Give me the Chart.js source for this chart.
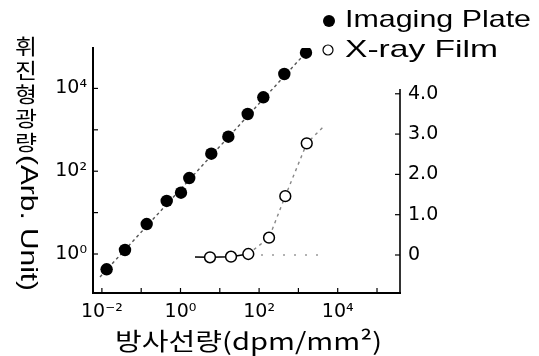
<!DOCTYPE html>
<html><head><meta charset="utf-8">
<script src="https://cdn.jsdelivr.net/npm/chart.js@4/dist/chart.umd.min.js"></script>
<style>html,body{margin:0;padding:0;background:#fff;overflow:hidden}</style>
</head><body><canvas id="c" width="539" height="356"></canvas>
<script>
// ---- data ----
const ipDose = [0.0132, 0.0387, 0.138, 0.446, 1.03, 1.67, 6.08, 16.5, 51.3, 128, 438, 1560];
const ipLuminescence = [0.427, 1.25, 5.3, 19.1, 30.3, 68.5, 265, 681, 2410, 6100, 22300, 72800];
const filmDose = [5.63, 19.3, 53.1, 179, 464, 1630];
const filmDensity = [-0.057, -0.042, 0.025, 0.43, 1.46, 2.77];
const ipFitDose = [0.00895, 2094];
const ipFitLuminescence = [0.278, 100000];
const filmCurveDose = [2.34, 5.63, 19.3, 53.1, 179, 464, 1630, 4300];
const filmCurveDensity = [-0.05, -0.057, -0.042, 0.025, 0.43, 1.46, 2.77, 3.18];
const fogDose = [58.7, 4750];
const fogDensity = [0, 0];
const xTickValues = [0.01, 1, 100, 10000];
const xTickLabels = ['10⁻²', '10⁰', '10²', '10⁴'];
const yTickValues = [1, 100, 10000];
const yTickLabels = ['10⁰', '10²', '10⁴'];
const y2TickValues = [0, 1, 2, 3, 4];
const y2TickLabels = ['0', '1.0', '2.0', '3.0', '4.0'];
const seriesNames = ['Imaging Plate', 'X-ray Film'];
const xTitle = '방사선량(dpm/mm²)';
const yTitleKo = ['휘', '진', '형', '광', '량'];
const yTitleLatin = '(Arb. Unit)';

const pts = (xs, ys) => xs.map((x, i) => ({x: x, y: ys[i]}));
const tickFont = {family: '"DejaVu Sans"', size: 19};

function stretchText(ctx, text, x, y, width) {
  const w = ctx.measureText(text).width;
  ctx.save();
  ctx.translate(x, y);
  ctx.scale(width / w, 1);
  ctx.fillText(text, 0, 0);
  ctx.restore();
}

const decor = {
  id: 'decor',
  afterDraw(chart) {
    const ctx = chart.ctx, a = chart.chartArea;
    const sx = chart.scales.x, sy = chart.scales.y, s2 = chart.scales.y2;
    ctx.save();
    ctx.strokeStyle = '#000'; ctx.fillStyle = '#000';
    // right axis line (only up to just above 4.0)
    ctx.lineWidth = 1.6;
    ctx.beginPath();
    ctx.moveTo(a.right, s2.getPixelForValue(4.12));
    ctx.lineTo(a.right, a.bottom + 1);
    ctx.stroke();
    // inward tick marks
    ctx.lineWidth = 1.2;
    for (let k = 0; k <= 4; k++) {
      const p = sy.getPixelForValue(Math.pow(10, k));
      ctx.beginPath(); ctx.moveTo(a.left, p); ctx.lineTo(a.left + 5, p); ctx.stroke();
    }
    for (let k = -2; k <= 5; k++) {
      const p = sx.getPixelForValue(Math.pow(10, k));
      ctx.beginPath(); ctx.moveTo(p, a.bottom); ctx.lineTo(p, a.bottom - 5); ctx.stroke();
    }
    y2TickValues.forEach(v => {
      const p = s2.getPixelForValue(v);
      ctx.beginPath(); ctx.moveTo(a.right, p); ctx.lineTo(a.right - 5, p); ctx.stroke();
    });
    // legend
    ctx.beginPath(); ctx.arc(329, 21, 6, 0, Math.PI * 2); ctx.fill();
    ctx.lineWidth = 1.2;
    ctx.beginPath(); ctx.arc(328, 50, 5, 0, Math.PI * 2); ctx.stroke();
    ctx.font = '24px "Liberation Sans"';
    ctx.textBaseline = 'alphabetic'; ctx.textAlign = 'left';
    stretchText(ctx, seriesNames[0], 345, 27, 186);
    stretchText(ctx, seriesNames[1], 345, 57, 153);
    // x title
    ctx.font = '24px "Noto Sans CJK KR"';
    stretchText(ctx, xTitle, 115, 350, 267);
    // y title: Hangul upright, Latin rotated clockwise
    ctx.font = '21px "Noto Sans CJK KR"';
    ctx.textAlign = 'left'; ctx.textBaseline = 'middle';
    yTitleKo.forEach((ch, i) => stretchText(ctx, ch, 15, 46 + 24 * i, 22));
    ctx.save();
    ctx.translate(28, 155);
    ctx.rotate(Math.PI / 2);
    ctx.font = '24px "Liberation Sans"';
    ctx.textAlign = 'left'; ctx.textBaseline = 'middle';
    stretchText(ctx, yTitleLatin, 0, 0, 136);
    ctx.restore();
    ctx.restore();
  }
};

new Chart(document.getElementById('c'), {
  type: 'scatter',
  data: {
    datasets: [
      {label: seriesNames[0], data: pts(ipDose, ipLuminescence), yAxisID: 'y',
       pointRadius: 6.2, pointBackgroundColor: '#000', pointBorderColor: '#000', pointBorderWidth: 0, showLine: false},
      {label: seriesNames[1], data: pts(filmDose, filmDensity), yAxisID: 'y2',
       pointRadius: 5.4, pointBackgroundColor: '#fff', pointBorderColor: '#000', pointBorderWidth: 1.5, showLine: false},
      {label: 'ip fit', data: pts(ipFitDose, ipFitLuminescence), yAxisID: 'y', showLine: true,
       pointRadius: 0, borderColor: '#555', borderWidth: 1.4, borderDash: [3, 3]},
      {label: 'film curve', data: pts(filmCurveDose, filmCurveDensity), yAxisID: 'y2', showLine: true,
       pointRadius: 0, borderWidth: 1.4, borderColor: '#777', borderDash: [3, 3],
       segment: {
         borderColor: c => c.p1DataIndex <= 3 ? '#000' : '#888',
         borderDash: c => c.p1DataIndex <= 3 ? [] : [3, 4]
       }},
      {label: 'fog', data: pts(fogDose, fogDensity), yAxisID: 'y2', showLine: true,
       pointRadius: 0, borderColor: '#999', borderWidth: 1.4, borderDash: [2, 9]}
    ]
  },
  options: {
    responsive: false, animation: false, devicePixelRatio: 1,
    layout: {padding: {top: 48, left: 0, right: 0, bottom: 0}},
    plugins: {legend: {display: false}, tooltip: {enabled: false}, title: {display: false}},
    scales: {
      x: {type: 'logarithmic', position: 'bottom', min: 0.00594, max: 384600,
          grid: {display: false, drawTicks: false, tickLength: 0},
          border: {display: true, color: '#000', width: 2},
          ticks: {font: tickFont, color: '#000', padding: 8, autoSkip: false, maxRotation: 0,
                  callback: (v, i) => xTickLabels[i]},
          afterBuildTicks: s => { s.ticks = xTickValues.map(v => ({value: v})); },
          afterFit: s => { s.height = 63; }},
      y: {type: 'logarithmic', position: 'left', min: 0.1143, max: 94700,
          grid: {display: false, drawTicks: false, tickLength: 0},
          border: {display: true, color: '#000', width: 2},
          ticks: {font: tickFont, color: '#000', padding: 6, autoSkip: false,
                  callback: (v, i) => yTickLabels[i]},
          afterBuildTicks: s => { s.ticks = yTickValues.map(v => ({value: v})); },
          afterFit: s => { s.width = 93; }},
      y2: {type: 'linear', position: 'right', min: -0.943, max: 5.136,
           grid: {display: false, drawTicks: false, tickLength: 0, drawOnChartArea: false},
           border: {display: false},
           ticks: {font: tickFont, color: '#000', padding: 8, autoSkip: false,
                   callback: (v, i) => y2TickLabels[i]},
           afterBuildTicks: s => { s.ticks = y2TickValues.map(v => ({value: v})); },
           afterFit: s => { s.width = 139; }}
    }
  },
  plugins: [decor]
});
</script>
</body></html>
